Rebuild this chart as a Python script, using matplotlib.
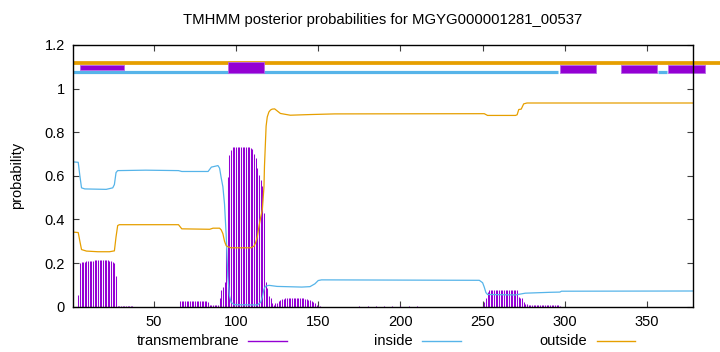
import matplotlib
matplotlib.use("Agg")
import matplotlib.pyplot as plt
from matplotlib.patches import Rectangle
from matplotlib.lines import Line2D
from matplotlib.ticker import FormatStrFormatter

plt.rcParams['font.family'] = ['Liberation Sans', 'DejaVu Sans']

title = "TMHMM posterior probabilities for MGYG000001281_00537"
seq_len = 378

# Transmembrane posterior (per residue, zero elsewhere)
tm_pos = ([4, 5, 6, 7, 8, 9, 10, 11, 12, 13, 14, 15, 16, 17, 18, 19, 20, 21, 22, 23, 24, 25, 26, 27,
           28, 29, 30, 31, 32, 33, 34, 35, 36, 37]
          + [66, 67, 68, 69, 70, 71, 72, 73, 74, 75, 76, 77, 78, 79, 80, 81, 82, 83, 84, 85, 86, 87, 88, 89]
          + [90, 91, 92, 93, 94, 95, 96, 97, 98, 99, 100, 101, 102, 103, 104, 105, 106, 107, 108, 109,
             110, 111, 112, 113, 114, 115, 116, 117, 118, 119, 120, 121, 122, 123]
          + [124, 125, 126, 127, 128, 129, 130, 131, 132, 133, 134, 135, 136, 137, 138, 139, 140, 141,
             142, 143, 144, 145, 146, 147, 148, 149, 150, 151]
          + [175, 180, 185, 190, 195, 200, 205, 210]
          + [250, 251, 252, 253, 254, 255, 256, 257, 258, 259, 260, 261, 262, 263, 264, 265, 266, 267,
             268, 269, 270, 271, 272, 273, 274, 275, 276, 277, 278, 279, 280, 281, 282, 283, 284, 285,
             286, 287, 288, 289, 290, 291, 292, 293, 294, 295, 296, 297])
tm_val = ([0.054, 0.200, 0.205, 0.206, 0.207, 0.208, 0.209, 0.210, 0.210, 0.211, 0.212, 0.212, 0.213,
           0.214, 0.214, 0.214, 0.214, 0.213, 0.212, 0.211, 0.209, 0.206, 0.202, 0.140,
           0.004, 0.003, 0.003, 0.003, 0.003, 0.003, 0.003, 0.003, 0.003, 0.002]
          + [0.026, 0.026, 0.027, 0.027, 0.027, 0.027, 0.027, 0.027, 0.027, 0.027, 0.027, 0.027, 0.027,
             0.026, 0.026, 0.025, 0.024, 0.022, 0.008, 0.006, 0.006, 0.006, 0.006, 0.010]
          + [0.040, 0.077, 0.092, 0.115, 0.270, 0.595, 0.697, 0.720, 0.731, 0.731, 0.731, 0.731, 0.731,
             0.731, 0.731, 0.731, 0.731, 0.731, 0.731, 0.728, 0.722, 0.700, 0.682, 0.636, 0.606, 0.580,
             0.552, 0.429, 0.112, 0.085, 0.050, 0.039, 0.015, 0.009]
          + [0.015, 0.019, 0.025, 0.030, 0.034, 0.037, 0.039, 0.040, 0.040, 0.040, 0.040, 0.040, 0.040,
             0.040, 0.040, 0.039, 0.039, 0.038, 0.037, 0.035, 0.033, 0.030, 0.026, 0.020, 0.015, 0.010,
             0.005, 0.003]
          + [0.003, 0.003, 0.003, 0.003, 0.003, 0.003, 0.003, 0.003]
          + [0.005, 0.020, 0.040, 0.069, 0.077, 0.077, 0.077, 0.077, 0.077, 0.077, 0.077, 0.077, 0.077,
             0.077, 0.077, 0.077, 0.077, 0.077, 0.077, 0.077, 0.077, 0.077, 0.045, 0.042, 0.039, 0.023,
             0.011, 0.011, 0.010, 0.010, 0.010, 0.010, 0.010, 0.010, 0.010, 0.010, 0.010, 0.010, 0.010,
             0.010, 0.010, 0.010, 0.010, 0.009, 0.009, 0.008, 0.006, 0.004])

# Inside posterior
inside_x = [1, 4, 5, 6, 8, 21, 25, 26, 27, 28, 45, 65, 67, 83, 85, 89, 90, 91, 92, 93, 94, 95, 96, 97,
            99, 113, 115, 116, 117, 118, 120, 125, 140, 145, 148, 150, 152, 248, 250, 251, 252, 253,
            270, 273, 276, 291, 297, 298, 378]
inside_y = [0.664, 0.662, 0.600, 0.545, 0.540, 0.538, 0.545, 0.560, 0.615, 0.624, 0.626, 0.624, 0.620,
            0.620, 0.640, 0.647, 0.635, 0.590, 0.550, 0.470, 0.330, 0.140, 0.050, 0.020, 0.009, 0.008,
            0.020, 0.045, 0.080, 0.094, 0.098, 0.093, 0.090, 0.092, 0.105, 0.120, 0.123, 0.121, 0.110,
            0.090, 0.065, 0.056, 0.054, 0.058, 0.062, 0.066, 0.067, 0.071, 0.072]

# Outside posterior
outside_x = [1, 4, 5, 6, 9, 16, 23, 26, 27, 28, 29, 65, 67, 84, 86, 90, 91, 92, 93, 94, 95, 97, 109,
             111, 112, 113, 114, 115, 116, 117, 117.3, 118.3, 119, 120, 121, 122, 123.5, 125, 127, 133,
             145, 160, 251, 253, 270, 271, 272, 273.5, 275, 277, 378]
outside_y = [0.342, 0.340, 0.300, 0.262, 0.255, 0.252, 0.252, 0.256, 0.320, 0.372, 0.376, 0.376, 0.357,
             0.355, 0.360, 0.360, 0.352, 0.335, 0.300, 0.280, 0.275, 0.270, 0.270, 0.278, 0.295, 0.322,
             0.370, 0.410, 0.445, 0.550, 0.644, 0.828, 0.870, 0.893, 0.902, 0.906, 0.907, 0.898, 0.886,
             0.878, 0.881, 0.884, 0.885, 0.877, 0.877, 0.880, 0.904, 0.906, 0.930, 0.934, 0.934]

# Predicted topology bar at the top
tm_seg_start = [5, 95, 297, 334, 363]
tm_seg_end = [32, 117, 319, 356, 385]
tm_seg_low = [1.084, 1.073, 1.071, 1.071, 1.071]
tm_seg_high = [1.110, 1.124, 1.110, 1.110, 1.110]
in_seg_start = [1, 357]
in_seg_end = [296, 362]
out_seg_start = [1]
out_seg_end = [395]

c_tm = '#9400d3'
c_in = '#56b4e9'
c_out = '#e69f00'

fig = plt.figure(figsize=(7.2, 3.52), dpi=100)
ax = fig.add_axes([0.1018, 0.1287, 0.8607, 0.7435])

ax.vlines(tm_pos, 0, tm_val, color=c_tm, lw=0.75, zorder=2)
ax.plot(inside_x, inside_y, color=c_in, lw=0.9, zorder=3)
ax.plot(outside_x, outside_y, color=c_out, lw=0.9, zorder=3)

for s, e in zip(in_seg_start, in_seg_end):
    ax.plot([s, e], [1.078, 1.078], color=c_in, lw=2.3, solid_capstyle='butt', clip_on=False, zorder=4)
for s, e in zip(out_seg_start, out_seg_end):
    ax.plot([s, e], [1.118, 1.118], color=c_out, lw=2.7, solid_capstyle='butt', clip_on=False, zorder=4)
for s, e, lo, hi in zip(tm_seg_start, tm_seg_end, tm_seg_low, tm_seg_high):
    ax.add_patch(Rectangle((s, lo), e - s, hi - lo, facecolor=c_tm, edgecolor='#b866e6',
                           lw=0.6, clip_on=False, zorder=5))

ax.set_xlim(1, seq_len)
ax.set_ylim(0, 1.2)
ax.set_xticks([50, 100, 150, 200, 250, 300, 350])
ax.set_yticks([0, 0.2, 0.4, 0.6, 0.8, 1.0, 1.2])
ax.yaxis.set_major_formatter(FormatStrFormatter('%g'))
ax.tick_params(direction='in', length=4, width=0.8, top=True, right=True,
               labelsize=10.5, pad=6, colors='#404040', labelcolor='black')
for sp in ax.spines.values():
    sp.set_linewidth(1.0)
    sp.set_zorder(6)

ax.set_ylabel('probability', fontsize=10.5, labelpad=15)
fig.text(0.532, 0.943, title, ha='center', va='center', fontsize=10.7)

# Key below the plot
key_y = 1 - 341 / 352
key_items = [('transmembrane', c_tm, 239 / 720, 248 / 720, 287 / 720),
             ('inside', c_in, 413 / 720, 422 / 720, 461 / 720),
             ('outside', c_out, 587 / 720, 597 / 720, 635 / 720)]
for label, col, tx, l0, l1 in key_items:
    fig.text(tx, key_y, label, ha='right', va='center', fontsize=10.5)
    fig.add_artist(Line2D([l0, l1], [key_y, key_y], color=col, lw=1.0, transform=fig.transFigure))

fig.savefig('out.png', dpi=100)
